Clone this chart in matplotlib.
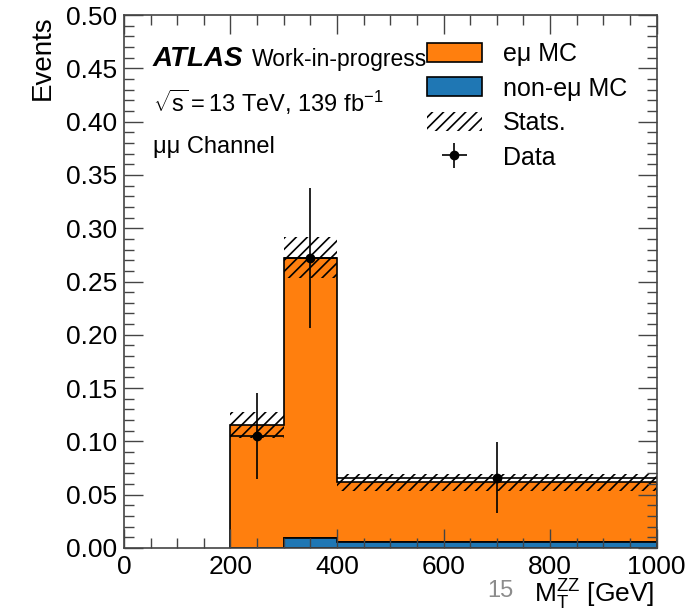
import numpy as np
import matplotlib
matplotlib.use("Agg")
import matplotlib.pyplot as plt
from matplotlib.patches import Patch
from matplotlib.ticker import MultipleLocator, FormatStrFormatter

plt.rcParams["font.family"] = ["Liberation Sans", "DejaVu Sans"]
plt.rcParams["mathtext.fontset"] = "custom"
plt.rcParams["mathtext.rm"] = "Liberation Sans"
plt.rcParams["mathtext.it"] = "Liberation Sans:italic"
plt.rcParams["hatch.linewidth"] = 1.2

# binning in M_T^ZZ [GeV]
bin_edges = np.array([200, 300, 400, 1000])
bin_centers = np.array([250, 350, 700])

# stacked MC yields
non_emu_mc = np.array([0.0, 0.0095, 0.006])
emu_mc = np.array([0.1154, 0.2628, 0.0558])
stat_err = np.array([0.012, 0.019, 0.008])

# data points
data_y = np.array([0.105, 0.272, 0.066])
data_yerr = np.array([0.040, 0.066, 0.033])

fig = plt.figure(figsize=(6.92, 6.14), dpi=100)
ax = fig.add_axes([0.179, 0.1075, 0.770, 0.868])

ax.hist([bin_centers, bin_centers], bins=bin_edges,
        weights=[non_emu_mc, emu_mc], stacked=True, histtype="stepfilled",
        color=["#1f77b4", "#ff7f0e"], edgecolor="black", linewidth=1.2)

total = non_emu_mc + emu_mc
widths = np.diff(bin_edges)
ax.bar(bin_edges[:-1], 2 * stat_err, width=widths, bottom=total - stat_err,
       align="edge", fill=False, hatch="///", linewidth=0, edgecolor="black")

ax.errorbar(bin_centers, data_y, yerr=data_yerr, xerr=widths / 2,
            fmt="o", color="black", ms=6, elinewidth=1.2, capsize=0)

ax.set_xlim(0, 1000)
ax.set_ylim(0, 0.5)
ax.xaxis.set_major_locator(MultipleLocator(200))
ax.xaxis.set_minor_locator(MultipleLocator(50))
ax.yaxis.set_major_locator(MultipleLocator(0.05))
ax.yaxis.set_minor_locator(MultipleLocator(0.01))
ax.yaxis.set_major_formatter(FormatStrFormatter("%.2f"))
ax.tick_params(which="both", direction="in", top=True, right=True,
               labelsize=19, color="#444444")
ax.tick_params(which="major", length=14, width=1.0, pad=5)
ax.tick_params(which="minor", length=7, width=1.0)
for sp in ax.spines.values():
    sp.set_color("#444444")
    sp.set_linewidth(1.2)

ax.set_ylabel("Events", loc="top", fontsize=20)
ax.yaxis.set_label_coords(-0.128, 1.0)
ax.set_xlabel(r"$\mathrm{M}_{\mathrm{T}}^{\mathrm{ZZ}}$ [GeV]", loc="right",
              fontsize=19)
ax.xaxis.set_label_coords(0.995, -0.055)

ax.text(0.054, 0.904, "ATLAS", transform=ax.transAxes, fontsize=20,
        fontweight="bold", fontstyle="italic")
ax.text(0.24, 0.904, "Work-in-progress", transform=ax.transAxes, fontsize=16.5)
ax.text(0.054, 0.818, r"$\sqrt{\mathrm{s}}=13$ TeV, 139 fb$^{-1}$",
        transform=ax.transAxes, fontsize=17)
ax.text(0.054, 0.741, "μμ Channel", transform=ax.transAxes, fontsize=17)

handles = [
    Patch(facecolor="#ff7f0e", edgecolor="black", linewidth=1.2),
    Patch(facecolor="#1f77b4", edgecolor="black", linewidth=1.2),
    Patch(facecolor="white", edgecolor="black", hatch="///", linewidth=0),
    ax.errorbar([], [], yerr=[], xerr=[], fmt="o", color="black", ms=6,
                elinewidth=1.2),
]
labels = ["eμ MC", "non-eμ MC", "Stats.", "Data"]
ax.legend(handles, labels, loc="upper left",
          bbox_to_anchor=((427 - 124) / 533, (548 - 42) / 533),
          frameon=False, fontsize=18, borderpad=0, borderaxespad=0,
          handlelength=2.2, handleheight=0.8, handletextpad=0.85,
          labelspacing=0.42)

fig.text(487 / 692, 1 - 597 / 614, "15", fontsize=17, color="#8c8c8c")

fig.savefig("out.png", dpi=100)
